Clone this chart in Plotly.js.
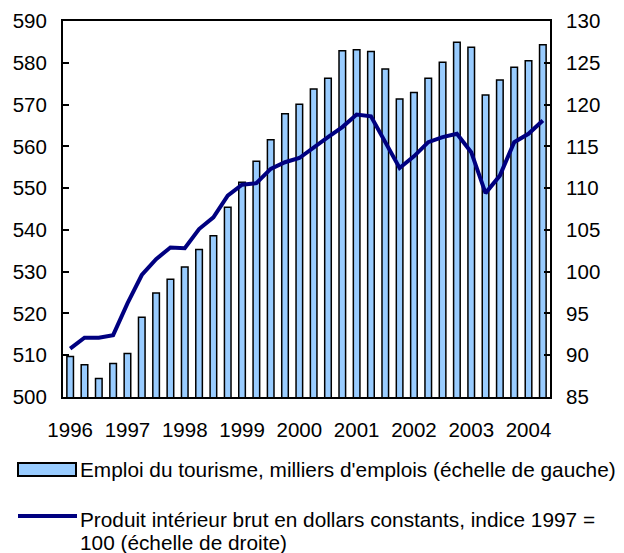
<!DOCTYPE html>
<html>
<head>
<meta charset="utf-8">
<script src="https://cdn.plot.ly/plotly-3.0.1.min.js"></script>
<style>html,body{margin:0;padding:0;background:#fff;}#chart{width:624px;height:553px;}</style>
</head>
<body>
<div id="chart"></div>
<script>
// Quarterly data, 1996 Q1 to 2004 Q2
const quarters = ["1996T1","1996T2","1996T3","1996T4","1997T1","1997T2","1997T3","1997T4",
  "1998T1","1998T2","1998T3","1998T4","1999T1","1999T2","1999T3","1999T4",
  "2000T1","2000T2","2000T3","2000T4","2001T1","2001T2","2001T3","2001T4",
  "2002T1","2002T2","2002T3","2002T4","2003T1","2003T2","2003T3","2003T4",
  "2004T1","2004T2"];
const emploi = [509.7,507.7,504.4,508.0,510.4,519.1,524.9,528.2,531.1,535.3,538.6,545.4,
  551.4,556.4,561.6,567.8,570.1,573.7,576.3,582.9,583.1,582.7,578.5,571.3,
  572.9,576.3,580.1,584.9,583.7,572.3,575.9,578.9,580.5,584.3];
const pib = [90.8,92.1,92.1,92.4,96.2,99.6,101.5,102.9,102.8,105.1,106.5,109.1,
  110.4,110.6,112.3,113.1,113.6,114.9,116.1,117.3,118.8,118.6,115.5,112.4,
  113.8,115.5,116.1,116.5,114.3,109.4,111.5,115.5,116.5,118.1];
const yearLabels = ["1996","1997","1998","1999","2000","2001","2002","2003","2004"];
const leftTicks = [500,510,520,530,540,550,560,570,580,590];
const rightTicks = [85,90,95,100,105,110,115,120,125,130];
const legendLine1 = "Emploi du tourisme, milliers d'emplois (échelle de gauche)";
const legendLine2a = "Produit intérieur brut en dollars constants, indice 1997 =";
const legendLine2b = "100 (échelle de droite)";

const xIdx = quarters.map((q, i) => i);
const yearIdx = yearLabels.map((y) => quarters.indexOf(y + "T1"));

const W = 624, H = 553;
const M = {l: 63, r: 74, t: 21, b: 156};
const pw = W - M.l - M.r, ph = H - M.t - M.b;
const px = (x) => (x - M.l) / pw;
const py = (y) => (H - M.b - y) / ph;

const FONT = "Liberation Sans, Arial, Helvetica, sans-serif";
const TICKSIZE = 20.5;
const LEGSIZE = 20.8;

const traces = [
  {
    type: "bar", x: xIdx, y: emploi, name: legendLine1, width: 0.46,
    marker: {color: "#99CCFF", line: {color: "#000000", width: 1.5}},
    showlegend: false, hoverinfo: "y"
  },
  {
    type: "scatter", mode: "lines", x: xIdx, y: pib, yaxis: "y2", name: legendLine2a + " " + legendLine2b,
    line: {color: "#000080", width: 4}, showlegend: false, hoverinfo: "y"
  }
];

const legFont = {family: FONT, size: LEGSIZE, color: "#000"};

const layout = {
  width: W, height: H,
  margin: M,
  paper_bgcolor: "#ffffff", plot_bgcolor: "#ffffff",
  font: {family: FONT, size: TICKSIZE, color: "#000000"},
  showlegend: false,
  bargap: 0,
  xaxis: {
    range: [-0.5, quarters.length - 0.5],
    tickmode: "array", tickvals: yearIdx, ticktext: yearLabels,
    ticks: "", showgrid: false, zeroline: false,
    showline: true, linecolor: "#000", linewidth: 2, mirror: true,
    ticklabelstandoff: 13,
    tickfont: {family: FONT, size: TICKSIZE}
  },
  yaxis: {
    range: [500, 590], tickmode: "array", tickvals: leftTicks,
    ticks: "inside", ticklen: 6, tickwidth: 2, tickcolor: "#000",
    showgrid: false, zeroline: false,
    showline: true, linecolor: "#000", linewidth: 2,
    ticklabelstandoff: 10,
    tickfont: {family: FONT, size: TICKSIZE}
  },
  yaxis2: {
    range: [85, 130], tickmode: "array", tickvals: rightTicks,
    overlaying: "y", side: "right",
    ticks: "inside", ticklen: 6, tickwidth: 2, tickcolor: "#000",
    showgrid: false, zeroline: false,
    showline: true, linecolor: "#000", linewidth: 2,
    ticklabelstandoff: 10,
    tickfont: {family: FONT, size: TICKSIZE}
  },
  shapes: [
    {type: "rect", xref: "paper", yref: "paper",
     x0: px(18), x1: px(76), y0: py(463), y1: py(476),
     fillcolor: "#99CCFF", line: {color: "#000", width: 2}},
    {type: "line", xref: "paper", yref: "paper",
     x0: px(18), x1: px(77), y0: py(516), y1: py(516),
     line: {color: "#000080", width: 4}}
  ],
  annotations: [
    {xref: "paper", yref: "paper", x: px(78), y: py(469), xanchor: "left", yanchor: "middle",
     text: legendLine1, showarrow: false, align: "left", font: legFont},
    {xref: "paper", yref: "paper", x: px(78), y: py(519), xanchor: "left", yanchor: "middle",
     text: legendLine2a, showarrow: false, align: "left", font: legFont},
    {xref: "paper", yref: "paper", x: px(78), y: py(542), xanchor: "left", yanchor: "middle",
     text: legendLine2b, showarrow: false, align: "left", font: legFont}
  ]
};

Plotly.newPlot("chart", traces, layout, {displayModeBar: false, staticPlot: true});
</script>
</body>
</html>
